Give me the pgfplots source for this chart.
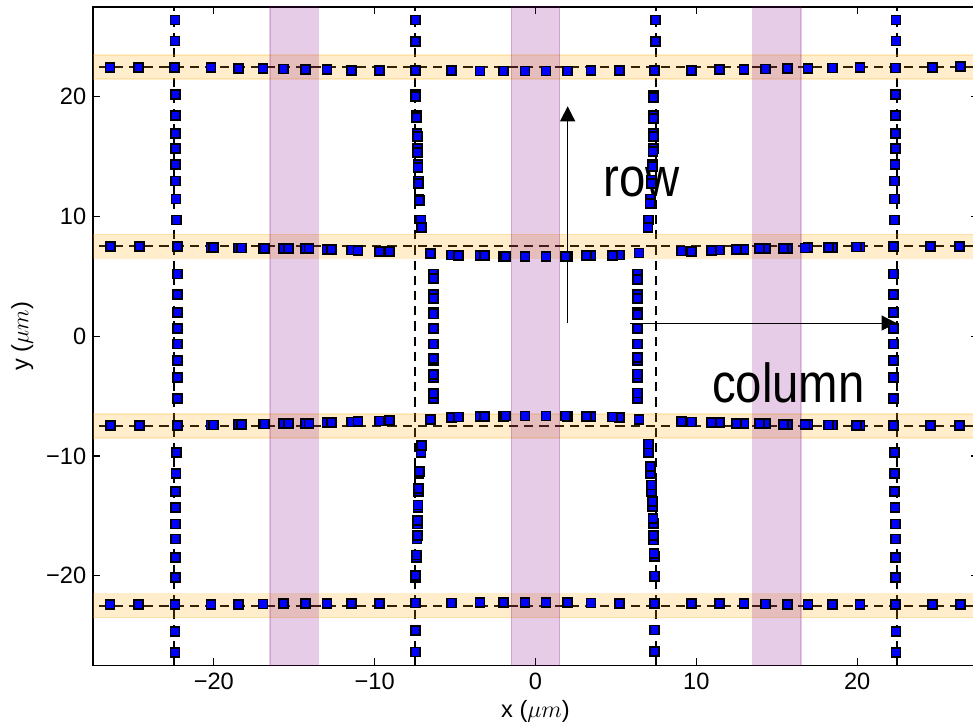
\documentclass[border=0pt]{standalone}
\usepackage{fontspec}
\setmainfont{Liberation Sans}
\usepackage{graphicx}
\usepackage{pgfplots}
\pgfplotsset{compat=1.18}
\usetikzlibrary{arrows.meta}
\definecolor{mplorange}{HTML}{FFA500}
\definecolor{mplpurple}{HTML}{800080}
\begin{document}
\begin{tikzpicture}
\begin{axis}[
  scale only axis, width=442.3bp, height=329.3bp,
  xmin=-27.5, xmax=27.5, ymin=-27.5, ymax=27.5,
  axis line style={line width=0.9bp},
  tick align=inside, xtick pos=both, ytick pos=both,
  major tick length=3.5bp,
  tick style={line width=0.6bp, black},
  xtick={-20,-10,0,10,20}, xticklabels={−20,−10,0,10,20},
  ytick={-20,-10,0,10,20}, yticklabels={−20,−10,0,10,20},
  ticklabel style={font=\fontsize{11.8bp}{14bp}\selectfont},
  xlabel={x ($\mu m$)}, ylabel={y ($\mu m$)},
  label style={font=\fontsize{11.8bp}{14bp}\selectfont},
  xlabel style={at={(axis description cs:0.5,-0.0782)}, anchor=base},
  ylabel style={at={(axis description cs:-0.0803,0.5)}, anchor=center},
  clip=true,
  mk/.style={only marks, mark=square*, mark size=2.25bp, mark options={fill=blue, draw=black, line width=0.9bp}},
  dsh/.style={black, line width=0.9bp, dash pattern=on 4.6bp off 3bp},
]
\pgfplotsset{every axis plot/.append style={forget plot}}
% column 1
\addplot[mk] coordinates {
(-22.42,26.40) (-22.42,24.65) (-22.45,22.42) (-22.40,20.17) (-22.40,18.45) (-22.39,16.94) (-22.38,15.68) (-22.37,14.32) (-22.36,12.96) (-22.35,11.46) (-22.33,9.70) (-22.28,7.50) (-22.28,5.20) (-22.28,3.45) (-22.28,2.00) (-22.28,0.65) (-22.28,-0.65) (-22.28,-2.00) (-22.28,-3.45) (-22.28,-5.20) (-22.28,-7.47) (-22.33,-9.70) (-22.35,-11.46) (-22.36,-12.96) (-22.37,-14.32) (-22.38,-15.68) (-22.39,-16.94) (-22.40,-18.45) (-22.40,-20.17) (-22.42,-22.42) (-22.42,-24.65) (-22.42,-26.40)
};
% column 4
\addplot[mk] coordinates {
(22.42,26.40) (22.42,24.65) (22.40,22.40) (22.38,20.17) (22.38,18.45) (22.37,16.94) (22.36,15.68) (22.35,14.32) (22.34,12.96) (22.33,11.46) (22.31,9.70) (22.24,7.47) (22.24,5.20) (22.24,3.45) (22.24,2.00) (22.24,0.65) (22.24,-0.65) (22.24,-2.00) (22.24,-3.45) (22.24,-5.20) (22.24,-7.47) (22.31,-9.70) (22.33,-11.46) (22.34,-12.96) (22.35,-14.32) (22.36,-15.68) (22.37,-16.94) (22.38,-18.45) (22.38,-20.17) (22.40,-22.42) (22.42,-24.65) (22.42,-26.40)
};
% column 2
\addplot[mk] coordinates {
(-7.48,26.40) (-7.48,24.60) (-7.44,22.20)
(-7.45,20.17) (-7.41,18.45) (-7.37,16.94) (-7.35,15.68) (-7.31,14.32) (-7.28,12.96) (-7.24,11.46) (-7.12,9.70)
(-7.44,20.00) (-7.40,18.27) (-7.36,16.67) (-7.34,15.36) (-7.30,14.10) (-7.27,12.72) (-7.22,11.33) (-7.10,9.10)
(-6.51,6.92)
(-6.36,5.20) (-6.36,3.45) (-6.36,2.00) (-6.36,0.65) (-6.36,-0.65) (-6.36,-2.00) (-6.36,-3.45) (-6.36,-5.20)
(-6.36,4.80) (-6.36,3.18) (-6.36,1.85) (-6.36,-1.85) (-6.36,-3.18) (-6.36,-4.80)
(-6.51,-6.94)
(-7.12,-9.70) (-7.24,-11.46) (-7.28,-12.96) (-7.31,-14.32) (-7.35,-15.68) (-7.37,-16.94) (-7.41,-18.45) (-7.45,-20.17)
(-7.10,-9.10) (-7.22,-11.33) (-7.27,-12.72) (-7.30,-14.10) (-7.34,-15.36) (-7.36,-16.67) (-7.40,-18.27) (-7.44,-20.00)
(-7.44,-22.28) (-7.48,-24.55) (-7.48,-26.38)
};
% column 3
\addplot[mk] coordinates {
(7.46,26.40) (7.46,24.60) (7.42,22.20)
(7.36,20.10) (7.35,18.40) (7.34,16.90) (7.32,15.70) (7.28,14.35) (7.22,13.04) (7.16,11.46) (7.05,9.70)
(7.34,19.95) (7.34,18.20) (7.33,16.70) (7.31,15.40) (7.27,14.15) (7.20,12.77) (7.12,11.10) (7.00,9.06)
(6.44,6.95)
(6.32,5.20) (6.32,3.45) (6.32,2.00) (6.32,0.65) (6.32,-0.65) (6.32,-2.00) (6.32,-3.45) (6.32,-5.20)
(6.32,4.75) (6.32,3.16) (6.32,1.80) (6.32,-1.80) (6.32,-3.16) (6.32,-4.75)
(6.44,-6.94)
(7.05,-9.70) (7.15,-11.45) (7.21,-12.98) (7.27,-14.24) (7.32,-15.62) (7.36,-17.02) (7.38,-18.41) (7.42,-20.10)
(7.03,-9.00) (7.14,-10.90) (7.20,-12.43) (7.26,-13.82) (7.31,-15.20) (7.35,-16.66) (7.37,-18.13) (7.42,-20.03)
(7.42,-22.30) (7.42,-24.53) (7.42,-26.35)
};
% row 1
\addplot[mk] coordinates {
(-26.45,22.45) (-24.68,22.45) (-20.17,22.42) (-18.45,22.38) (-16.94,22.34) (-15.68,22.31) (-14.32,22.28) (-12.96,22.25) (-11.46,22.21) (-9.70,22.20) (-5.20,22.17) (-3.45,22.15) (-2.00,22.15) (-0.65,22.14) (0.65,22.14) (2.00,22.15) (3.45,22.17) (5.20,22.20) (9.70,22.22) (11.46,22.26) (12.96,22.30) (14.32,22.32) (15.68,22.35) (16.94,22.37) (18.45,22.40) (20.17,22.42) (24.66,22.47) (26.43,22.50)
};
% row 4
\addplot[mk] coordinates {
(-26.45,-22.42) (-24.68,-22.42) (-20.17,-22.40) (-18.45,-22.38) (-16.94,-22.36) (-15.68,-22.34) (-14.32,-22.32) (-12.96,-22.30) (-11.46,-22.30) (-9.70,-22.30) (-5.20,-22.28) (-3.45,-22.26) (-2.00,-22.25) (-0.65,-22.25) (0.65,-22.25) (2.00,-22.26) (3.45,-22.28) (5.20,-22.30) (9.70,-22.30) (11.46,-22.32) (12.96,-22.34) (14.32,-22.36) (15.68,-22.38) (16.94,-22.39) (18.45,-22.40) (20.17,-22.42) (24.66,-22.42) (26.43,-22.42)
};
% row 2
\addplot[mk] coordinates {
(-26.44,7.50) (-24.64,7.50)
(-20.17,7.42) (-18.45,7.37) (-16.94,7.34) (-15.68,7.32) (-14.32,7.30) (-12.96,7.25) (-11.46,7.20) (-9.70,7.08)
(-20.04,7.42) (-18.28,7.37) (-16.83,7.34) (-15.38,7.32) (-14.08,7.30) (-12.68,7.25) (-11.03,7.19) (-9.06,7.05)
(-5.20,6.78) (-3.45,6.72) (-2.00,6.68) (-0.65,6.64) (0.65,6.64) (2.00,6.68) (3.45,6.72) (5.20,6.78)
(-4.80,6.76) (-3.18,6.71) (-1.85,6.67) (1.85,6.67) (3.18,6.71) (4.80,6.76)
(9.70,7.10) (11.46,7.20) (12.96,7.27) (14.32,7.32) (15.68,7.35) (16.94,7.38) (18.45,7.42) (20.17,7.45)
(9.08,7.12) (10.94,7.18) (12.50,7.25) (13.95,7.30) (15.40,7.34) (16.75,7.37) (18.20,7.41) (19.96,7.45)
(24.56,7.47) (26.34,7.47)
};
% row 3
\addplot[mk] coordinates {
(-26.44,-7.47) (-24.64,-7.47)
(-20.17,-7.42) (-18.45,-7.37) (-16.94,-7.34) (-15.68,-7.30) (-14.32,-7.27) (-12.96,-7.22) (-11.46,-7.16) (-9.70,-7.08)
(-20.04,-7.42) (-18.28,-7.37) (-16.83,-7.34) (-15.38,-7.30) (-14.08,-7.26) (-12.68,-7.20) (-11.03,-7.14) (-9.06,-7.06)
(-5.20,-6.76) (-3.45,-6.71) (-2.00,-6.68) (-0.65,-6.66) (0.65,-6.66) (2.00,-6.68) (3.45,-6.71) (5.20,-6.76)
(-4.80,-6.74) (-3.18,-6.70) (-1.85,-6.67) (1.85,-6.67) (3.18,-6.70) (4.80,-6.74)
(9.70,-7.16) (11.46,-7.22) (12.96,-7.28) (14.32,-7.32) (15.68,-7.36) (16.94,-7.40) (18.45,-7.42) (20.17,-7.45)
(9.08,-7.14) (10.94,-7.22) (12.50,-7.28) (13.95,-7.32) (15.40,-7.36) (16.75,-7.40) (18.20,-7.42) (19.96,-7.45)
(24.56,-7.47) (26.34,-7.47)
};
% dashed grid lines
\addplot[dsh] coordinates {(-30,22.5) (30,22.5)};
\addplot[dsh] coordinates {(-30,7.5) (30,7.5)};
\addplot[dsh] coordinates {(-30,-7.5) (30,-7.5)};
\addplot[dsh] coordinates {(-30,-22.5) (30,-22.5)};
\addplot[dsh] coordinates {(-22.5,-30) (-22.5,30)};
\addplot[dsh] coordinates {(-7.5,-30) (-7.5,30)};
\addplot[dsh] coordinates {(7.5,-30) (7.5,30)};
\addplot[dsh] coordinates {(22.5,-30) (22.5,30)};
% orange bands
\addplot[draw=mplorange, draw opacity=0.2, fill=mplorange, fill opacity=0.2, line width=0.8bp] coordinates {(-30,21.5) (30,21.5) (30,23.5) (-30,23.5)} -- cycle;
\addplot[draw=mplorange, draw opacity=0.2, fill=mplorange, fill opacity=0.2, line width=0.8bp] coordinates {(-30,6.5) (30,6.5) (30,8.5) (-30,8.5)} -- cycle;
\addplot[draw=mplorange, draw opacity=0.2, fill=mplorange, fill opacity=0.2, line width=0.8bp] coordinates {(-30,-8.5) (30,-8.5) (30,-6.5) (-30,-6.5)} -- cycle;
\addplot[draw=mplorange, draw opacity=0.2, fill=mplorange, fill opacity=0.2, line width=0.8bp] coordinates {(-30,-23.5) (30,-23.5) (30,-21.5) (-30,-21.5)} -- cycle;
% purple bands
\addplot[draw=mplpurple, draw opacity=0.2, fill=mplpurple, fill opacity=0.2, line width=0.8bp] coordinates {(-16.5,-30) (-13.5,-30) (-13.5,30) (-16.5,30)} -- cycle;
\addplot[draw=mplpurple, draw opacity=0.2, fill=mplpurple, fill opacity=0.2, line width=0.8bp] coordinates {(-1.5,-30) (1.5,-30) (1.5,30) (-1.5,30)} -- cycle;
\addplot[draw=mplpurple, draw opacity=0.2, fill=mplpurple, fill opacity=0.2, line width=0.8bp] coordinates {(13.5,-30) (16.5,-30) (16.5,30) (13.5,30)} -- cycle;
% annotations
\draw[line width=0.5bp, -{Triangle[length=7.5bp, width=7.5bp]}] (axis cs:2.0,1.1) -- (axis cs:2.0,19.2);
\draw[line width=0.5bp, -{Triangle[length=7.5bp, width=7.5bp]}] (axis cs:5.87,1.1) -- (axis cs:22.45,1.1);
\node[anchor=base west, inner sep=0pt, font=\fontsize{27.5bp}{30bp}\selectfont] at (axis cs:4.19,11.7) {\scalebox{0.86}[1]{row}};
\node[anchor=base west, inner sep=0pt, font=\fontsize{27.5bp}{30bp}\selectfont] at (axis cs:10.96,-5.5) {\scalebox{0.86}[1]{column}};
\end{axis}
\pgfresetboundingbox
\path[use as bounding box] (-46.6bp,-29.25bp) rectangle (439.9bp,332.75bp);
\end{tikzpicture}
\end{document}
